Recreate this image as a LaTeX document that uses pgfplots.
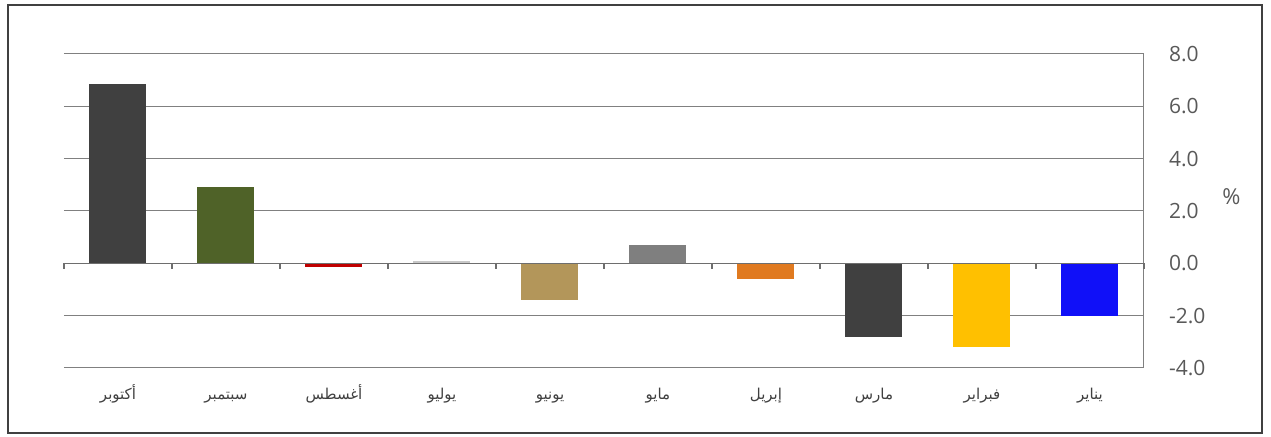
\documentclass[border=0pt]{standalone}
\usepackage{pgfplots}
\pgfplotsset{compat=1.18}
\usepackage{fontspec}
\setmainfont{Open Sans}
\newfontfamily\arabicfont[Script=Arabic]{DejaVu Sans}
\TeXXeTstate=1
\newcommand\ar[1]{{\arabicfont\beginR #1\endR}}

\definecolor{cdark}{HTML}{404040}
\definecolor{colive}{HTML}{4F6228}
\definecolor{cred}{HTML}{C00000}
\definecolor{clight}{HTML}{C8C8C8}
\definecolor{ctan}{HTML}{B3965A}
\definecolor{cgray}{HTML}{7F7F7F}
\definecolor{corange}{HTML}{E07A20}
\definecolor{cyellow}{HTML}{FFC000}
\definecolor{cblue}{HTML}{1010F8}
\definecolor{gridgray}{HTML}{808080}
\definecolor{zerogray}{HTML}{6E6E6E}
\definecolor{numgray}{HTML}{595959}

\pgfplotsset{/pgf/number format/assume math mode=true}

\begin{document}
\begin{tikzpicture}
\useasboundingbox (-32pt,-34.5pt) rectangle (603.5pt,184pt);
\begin{axis}[
    scale only axis,
    width=540pt, height=157pt,
    xmin=-0.5, xmax=9.5,
    ymin=-4, ymax=8,
    axis x line*=bottom,
    axis y line*=right,
    x axis line style={draw=none},
    y axis line style={draw=gridgray, line width=0.5pt, -},
    xtick={0,...,9},
    xticklabels={\ar{أكتوبر},\ar{سبتمبر},\ar{أغسطس},\ar{يوليو},\ar{يونيو},\ar{مايو},\ar{إبريل},\ar{مارس},\ar{فبراير},\ar{يناير}},
    xtick style={draw=none},
    x tick label style={font=\fontsize{7.5}{9}\selectfont, text=cdark,
        text height=8pt, text depth=2pt, yshift=-4pt},
    ytick={-4,-2,0,2,4,6,8},
    ytick style={draw=none},
    y tick label style={font=\fontsize{10.5}{12}\selectfont, text=numgray, xshift=9pt,
        /pgf/number format/.cd, fixed, fixed zerofill, precision=1, /tikz/.cd},
    ymajorgrids,
    grid style={draw=gridgray, line width=0.5pt},
    bar width=28.5pt,
    clip=false,
]
\addplot[ybar, bar shift=0pt, fill=cdark, draw=none] coordinates {(0,6.85)};
\addplot[ybar, bar shift=0pt, fill=colive, draw=none] coordinates {(1,2.9)};
\addplot[ybar, bar shift=0pt, fill=cred, draw=none] coordinates {(2,-0.15)};
\addplot[ybar, bar shift=0pt, fill=clight, draw=none] coordinates {(3,0.1)};
\addplot[ybar, bar shift=0pt, fill=ctan, draw=none] coordinates {(4,-1.4)};
\addplot[ybar, bar shift=0pt, fill=cgray, draw=none] coordinates {(5,0.7)};
\addplot[ybar, bar shift=0pt, fill=corange, draw=none] coordinates {(6,-0.6)};
\addplot[ybar, bar shift=0pt, fill=cdark, draw=none] coordinates {(7,-2.8)};
\addplot[ybar, bar shift=0pt, fill=cyellow, draw=none] coordinates {(8,-3.2)};
\addplot[ybar, bar shift=0pt, fill=cblue, draw=none] coordinates {(9,-2.0)};
% zero line with category separators
\draw[zerogray, line width=0.8pt] (axis cs:-0.5,0) -- (axis cs:9.5,0);
\pgfplotsinvokeforeach{-0.5,0.5,1.5,2.5,3.5,4.5,5.5,6.5,7.5,8.5,9.5}{
  \draw[zerogray, line width=0.6pt] (axis cs:#1,0) -- ([yshift=-3pt]axis cs:#1,0);
}
\node[font=\fontsize{11}{13}\selectfont, text=numgray] at (axis description cs:1.081,0.545) {\%};
\end{axis}
\draw[cdark, line width=1pt] (-28pt,-32.5pt) rectangle (599pt,181.5pt);
\end{tikzpicture}
\end{document}
